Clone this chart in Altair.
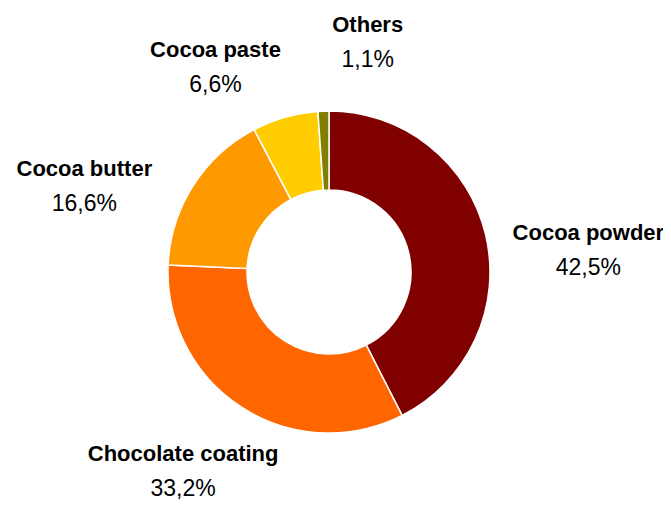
import altair as alt
import pandas as pd

categories = ["Cocoa powder", "Chocolate coating", "Cocoa butter", "Cocoa paste", "Others"]
shares = [42.5, 33.2, 16.6, 6.6, 1.1]
value_labels = ["42,5%", "33,2%", "16,6%", "6,6%", "1,1%"]
colors = ["#800000", "#FF6600", "#FF9900", "#FFCC00", "#808000"]

# label nudges (style offsets relative to the slice's mid-angle anchor)
label_dx = [26, -16, -42, -48, 47]
label_dy = [34, -3, 43, 26, 10]

df = pd.DataFrame({
    "category": categories,
    "share": shares,
    "label": value_labels,
    "idx": list(range(len(categories))),
})

CX, CY = 321, 264
R_OUT, R_IN, R_LAB = 161, 82, 240
FONT = "Liberation Sans, Arial"
FS_NAME = 22
FS_VAL = 23

theta_scale = alt.Scale(domain=[0, 100])

base = alt.Chart(df)

arcs = base.mark_arc(outerRadius=R_OUT, innerRadius=R_IN, stroke="white", strokeWidth=1.5).encode(
    theta=alt.Theta("share:Q", stack=True, scale=theta_scale),
    color=alt.Color("category:N", sort=categories,
                    scale=alt.Scale(domain=categories, range=colors), legend=None),
    order=alt.Order("idx:Q"),
    x=alt.value(CX),
    y=alt.value(CY),
)

layers = [arcs]
for i, cat in enumerate(categories):
    lab_base = base.transform_window(
        cum="sum(share)", sort=[alt.SortField("idx")], frame=[None, 0]
    ).transform_calculate(
        mid="datum.cum - datum.share / 2"
    ).transform_filter(
        alt.datum.category == cat
    )
    enc = dict(
        theta=alt.Theta("mid:Q", stack=None, scale=theta_scale),
        radius=alt.value(R_LAB),
        x=alt.value(CX),
        y=alt.value(CY),
    )
    name = lab_base.mark_text(font=FONT, fontSize=FS_NAME, fontWeight="bold", color="black",
                              baseline="middle", align="center",
                              dx=label_dx[i], dy=label_dy[i] - 17).encode(
        text="category:N", **enc)
    val = lab_base.mark_text(font=FONT, fontSize=FS_VAL, color="black",
                             baseline="middle", align="center",
                             dx=label_dx[i], dy=label_dy[i] + 18).encode(
        text="label:N", **enc)
    layers += [name, val]

chart = alt.layer(*layers).properties(
    width=655, height=492, autosize=alt.AutoSizeParams(type="none"), padding=0
).configure_view(stroke=None)

chart.save("out.html", embed_options={"renderer": "svg", "actions": False})
